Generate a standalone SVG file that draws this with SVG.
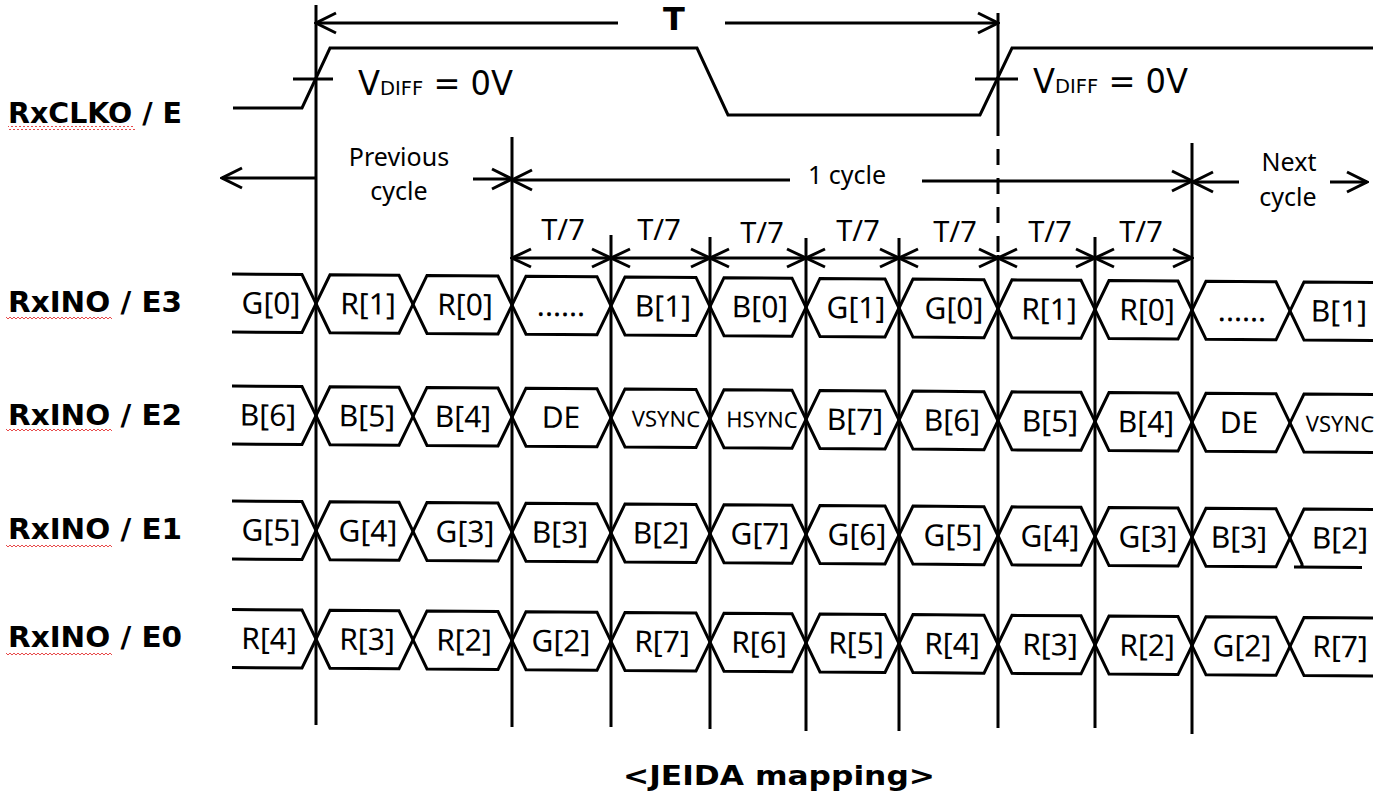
<svg xmlns="http://www.w3.org/2000/svg" xmlns:xlink="http://www.w3.org/1999/xlink" width="1378" height="803" viewBox="0 0 1378 803">
<style>
.ln{stroke:#000;stroke-width:3;fill:none}
.cell{stroke:#000;stroke-width:3;fill:none;stroke-linejoin:miter}
.ct{font-family:"Noto Sans",sans-serif;font-size:30px;text-anchor:middle;fill:#000}
.sm{font-size:22px}
.lbl{font-family:"DejaVu Sans",sans-serif;font-weight:bold;font-size:29px;fill:#000}
.ann{font-family:"Noto Sans",sans-serif;font-size:25px;text-anchor:middle;fill:#000}
.t7{font-family:"Noto Sans",sans-serif;font-size:29px;text-anchor:middle;fill:#000}
.vd{font-family:"DejaVu Sans",sans-serif;font-size:33px;fill:#000}
.arr{stroke:#000;stroke-width:3;fill:none;marker-end:url(#ah)}
.t7a{stroke:#000;stroke-width:3;fill:none;marker-start:url(#ah2);marker-end:url(#ah2)}
.sq{fill:url(#squig)}
</style>
<defs>
<marker id="ah" viewBox="-23 -12 25 24" refX="0" refY="0" markerWidth="25" markerHeight="24" markerUnits="userSpaceOnUse" orient="auto-start-reverse">
<path d="M-20,-10 L0,0 L-20,10" fill="none" stroke="#000" stroke-width="3"/>
</marker>
<marker id="ah2" viewBox="-22 -11 24 22" refX="0" refY="0" markerWidth="24" markerHeight="22" markerUnits="userSpaceOnUse" orient="auto-start-reverse">
<path d="M-19,-9 L0,0 L-19,9" fill="none" stroke="#000" stroke-width="3"/>
</marker>
<pattern id="squig" width="4" height="4" patternUnits="userSpaceOnUse">
<path d="M0,3 L2,1 L4,3" fill="none" stroke="#e84a4a" stroke-width="1"/>
</pattern>
<path id="cL" d="M232,-29 H302 L316,0 L302,29 H232"/>
<path id="c1" d="M316,0 L330,-29 H399 L413,0 L399,29 H330 Z"/>
<path id="c2" d="M413,0 L427,-29 H498 L512,0 L498,29 H427 Z"/>
<path id="c3" d="M512,0 L526,-29 H597 L611,0 L597,29 H526 Z"/>
<path id="c4" d="M611,0 L625,-29 H696 L710,0 L696,29 H625 Z"/>
<path id="c5" d="M710,0 L724,-29 H792 L806,0 L792,29 H724 Z"/>
<path id="c6" d="M806,0 L820,-29 H885 L899,0 L885,29 H820 Z"/>
<path id="c7" d="M899,0 L913,-29 H984 L998,0 L984,29 H913 Z"/>
<path id="c8" d="M998,0 L1012,-29 H1081 L1095,0 L1081,29 H1012 Z"/>
<path id="c9" d="M1095,0 L1109,-29 H1178 L1192,0 L1178,29 H1109 Z"/>
<path id="c10" d="M1192,0 L1206,-29 H1276 L1290,0 L1276,29 H1206 Z"/>
<path id="cR" d="M1373,-29 H1304 L1290,0 L1304,29 H1373"/>
<path id="cRb" d="M1373,-29 H1304 L1290,0 L1302,26 V29 M1294,29 H1362"/>
</defs>
<rect width="1378" height="803" fill="#fff"/>

<!-- Signal labels -->
<g id="labels">
<text class="lbl" x="8" y="123" textLength="174" lengthAdjust="spacingAndGlyphs">RxCLKO / E</text>
<rect class="sq" x="8" y="126" width="127" height="4"/>
<text class="lbl" x="8" y="312" textLength="174" lengthAdjust="spacingAndGlyphs">RxINO / E3</text>
<rect class="sq" x="6" y="315" width="106" height="4"/>
<text class="lbl" x="8" y="425" textLength="174" lengthAdjust="spacingAndGlyphs">RxINO / E2</text>
<rect class="sq" x="6" y="428" width="106" height="4"/>
<text class="lbl" x="8" y="539" textLength="174" lengthAdjust="spacingAndGlyphs">RxINO / E1</text>
<rect class="sq" x="6" y="544" width="106" height="4"/>
<text class="lbl" x="8" y="647" textLength="174" lengthAdjust="spacingAndGlyphs">RxINO / E0</text>
<rect class="sq" x="6" y="651" width="106" height="4"/>
</g>

<!-- Clock waveform -->
<g id="clock">
<path class="ln" d="M233,108 H302 L330,48 H697 L728,115 H980 L1012,48 H1373"/>
<path class="ln" d="M293,79 H333 M975,79 H1018"/>
<text class="vd" x="358" y="95" textLength="155" lengthAdjust="spacingAndGlyphs">V<tspan font-size="20">DIFF</tspan> = 0V</text>
<text class="vd" x="1033" y="93" textLength="155" lengthAdjust="spacingAndGlyphs">V<tspan font-size="20">DIFF</tspan> = 0V</text>
</g>

<!-- Timing reference lines and dimension arrows -->
<g id="connectors">
<path class="ln" d="M316,5 V725 M512,137 V727 M611,235 V727 M710,237 V729 M806,238 V731 M899,238 V731 M1095,237 V728 M1192,143 V734"/>
<path class="ln" d="M998,13 V120 M998,255 V728"/>
<path class="ln" d="M998,120 V255" stroke-dasharray="16 13"/>
<line class="arr" x1="618" y1="23" x2="316" y2="23"/>
<line class="arr" x1="725" y1="23" x2="998" y2="23"/>
<line class="arr" x1="316" y1="178" x2="222" y2="178"/>
<line class="arr" x1="473" y1="179" x2="512" y2="179"/>
<line class="arr" x1="790" y1="180" x2="512" y2="180"/>
<line class="arr" x1="922" y1="181" x2="1192" y2="181"/>
<line class="arr" x1="1239" y1="182" x2="1193" y2="182"/>
<line class="arr" x1="1330" y1="182" x2="1367" y2="182"/>
<line class="t7a" x1="512" y1="258" x2="611" y2="258"/>
<line class="t7a" x1="611" y1="258" x2="710" y2="258"/>
<line class="t7a" x1="710" y1="258" x2="806" y2="258"/>
<line class="t7a" x1="806" y1="258" x2="899" y2="258"/>
<line class="t7a" x1="899" y1="258" x2="998" y2="258"/>
<line class="t7a" x1="998" y1="258" x2="1095" y2="258"/>
<line class="t7a" x1="1095" y1="258" x2="1192" y2="258"/>
</g>

<!-- Annotation texts -->
<g id="annotations">
<text x="674" y="30" font-family="DejaVu Sans, sans-serif" font-weight="bold" font-size="32" text-anchor="middle">T</text>
<text class="ann" x="399" y="166">Previous</text>
<text class="ann" x="399" y="200">cycle</text>
<text class="ann" x="847" y="184">1 cycle</text>
<text class="ann" x="1289" y="171">Next</text>
<text class="ann" x="1288" y="206">cycle</text>
<text class="t7" x="563" y="240">T/7</text>
<text class="t7" x="659" y="240">T/7</text>
<text class="t7" x="762" y="243">T/7</text>
<text class="t7" x="858" y="241">T/7</text>
<text class="t7" x="955" y="242">T/7</text>
<text class="t7" x="1050" y="242">T/7</text>
<text class="t7" x="1141" y="242">T/7</text>
</g>

<!-- Row E3 -->
<g id="row-e3" transform="translate(0,301.25) skewY(0.43)">
<g id="e3-0"><use href="#cL" class="cell"/><text class="ct" x="271" y="10.5">G[0]</text></g>
<g id="e3-1"><use href="#c1" class="cell"/><text class="ct" x="368" y="10.5">R[1]</text></g>
<g id="e3-2"><use href="#c2" class="cell"/><text class="ct" x="465" y="10.5">R[0]</text></g>
<g id="e3-3"><use href="#c3" class="cell"/><text class="ct" x="561" y="10.5">......</text></g>
<g id="e3-4"><use href="#c4" class="cell"/><text class="ct" x="663" y="10.5">B[1]</text></g>
<g id="e3-5"><use href="#c5" class="cell"/><text class="ct" x="760" y="10.5">B[0]</text></g>
<g id="e3-6"><use href="#c6" class="cell"/><text class="ct" x="856" y="10.5">G[1]</text></g>
<g id="e3-7"><use href="#c7" class="cell"/><text class="ct" x="954" y="10.5">G[0]</text></g>
<g id="e3-8"><use href="#c8" class="cell"/><text class="ct" x="1049" y="10.5">R[1]</text></g>
<g id="e3-9"><use href="#c9" class="cell"/><text class="ct" x="1147" y="10.5">R[0]</text></g>
<g id="e3-10"><use href="#c10" class="cell"/><text class="ct" x="1242" y="10.5">......</text></g>
<g id="e3-11"><use href="#cR" class="cell"/><text class="ct" x="1339" y="10.5">B[1]</text></g>
</g>

<!-- Row E2 -->
<g id="row-e2" transform="translate(0,413.25) skewY(0.43)">
<g id="e2-0"><use href="#cL" class="cell"/><text class="ct" x="268" y="10.5">B[6]</text></g>
<g id="e2-1"><use href="#c1" class="cell"/><text class="ct" x="367" y="10.5">B[5]</text></g>
<g id="e2-2"><use href="#c2" class="cell"/><text class="ct" x="463" y="10.5">B[4]</text></g>
<g id="e2-3"><use href="#c3" class="cell"/><text class="ct" x="561" y="10.5">DE</text></g>
<g id="e2-4"><use href="#c4" class="cell"/><text class="ct sm" x="666" y="8.5">VSYNC</text></g>
<g id="e2-5"><use href="#c5" class="cell"/><text class="ct sm" x="762" y="8.5">HSYNC</text></g>
<g id="e2-6"><use href="#c6" class="cell"/><text class="ct" x="855" y="10.5">B[7]</text></g>
<g id="e2-7"><use href="#c7" class="cell"/><text class="ct" x="952" y="10.5">B[6]</text></g>
<g id="e2-8"><use href="#c8" class="cell"/><text class="ct" x="1050" y="10.5">B[5]</text></g>
<g id="e2-9"><use href="#c9" class="cell"/><text class="ct" x="1146" y="10.5">B[4]</text></g>
<g id="e2-10"><use href="#c10" class="cell"/><text class="ct" x="1239" y="10.5">DE</text></g>
<g id="e2-11"><use href="#cR" class="cell"/><text class="ct sm" x="1340" y="8.5">VSYNC</text></g>
</g>

<!-- Row E1 -->
<g id="row-e1" transform="translate(0,528.25) skewY(0.43)">
<g id="e1-0"><use href="#cL" class="cell"/><text class="ct" x="271" y="10.5">G[5]</text></g>
<g id="e1-1"><use href="#c1" class="cell"/><text class="ct" x="368" y="10.5">G[4]</text></g>
<g id="e1-2"><use href="#c2" class="cell"/><text class="ct" x="465" y="10.5">G[3]</text></g>
<g id="e1-3"><use href="#c3" class="cell"/><text class="ct" x="560" y="10.5">B[3]</text></g>
<g id="e1-4"><use href="#c4" class="cell"/><text class="ct" x="661" y="10.5">B[2]</text></g>
<g id="e1-5"><use href="#c5" class="cell"/><text class="ct" x="760" y="10.5">G[7]</text></g>
<g id="e1-6"><use href="#c6" class="cell"/><text class="ct" x="857" y="10.5">G[6]</text></g>
<g id="e1-7"><use href="#c7" class="cell"/><text class="ct" x="953" y="10.5">G[5]</text></g>
<g id="e1-8"><use href="#c8" class="cell"/><text class="ct" x="1050" y="10.5">G[4]</text></g>
<g id="e1-9"><use href="#c9" class="cell"/><text class="ct" x="1148" y="10.5">G[3]</text></g>
<g id="e1-10"><use href="#c10" class="cell"/><text class="ct" x="1239" y="10.5">B[3]</text></g>
<g id="e1-11"><use href="#cRb" class="cell"/><text class="ct" x="1340" y="10.5">B[2]</text></g>
</g>

<!-- Row E0 -->
<g id="row-e0" transform="translate(0,636.75) skewY(0.43)">
<g id="e0-0"><use href="#cL" class="cell"/><text class="ct" x="269" y="10.5">R[4]</text></g>
<g id="e0-1"><use href="#c1" class="cell"/><text class="ct" x="367" y="10.5">R[3]</text></g>
<g id="e0-2"><use href="#c2" class="cell"/><text class="ct" x="464" y="10.5">R[2]</text></g>
<g id="e0-3"><use href="#c3" class="cell"/><text class="ct" x="561" y="10.5">G[2]</text></g>
<g id="e0-4"><use href="#c4" class="cell"/><text class="ct" x="662" y="10.5">R[7]</text></g>
<g id="e0-5"><use href="#c5" class="cell"/><text class="ct" x="759" y="10.5">R[6]</text></g>
<g id="e0-6"><use href="#c6" class="cell"/><text class="ct" x="856" y="10.5">R[5]</text></g>
<g id="e0-7"><use href="#c7" class="cell"/><text class="ct" x="952" y="10.5">R[4]</text></g>
<g id="e0-8"><use href="#c8" class="cell"/><text class="ct" x="1050" y="10.5">R[3]</text></g>
<g id="e0-9"><use href="#c9" class="cell"/><text class="ct" x="1147" y="10.5">R[2]</text></g>
<g id="e0-10"><use href="#c10" class="cell"/><text class="ct" x="1242" y="10.5">G[2]</text></g>
<g id="e0-11"><use href="#cR" class="cell"/><text class="ct" x="1340" y="10.5">R[7]</text></g>
</g>

<g id="title">
<text x="623" y="785" font-family="DejaVu Sans, sans-serif" font-weight="bold" font-size="27" textLength="312" lengthAdjust="spacingAndGlyphs">&lt;JEIDA mapping&gt;</text>
</g>
</svg>
